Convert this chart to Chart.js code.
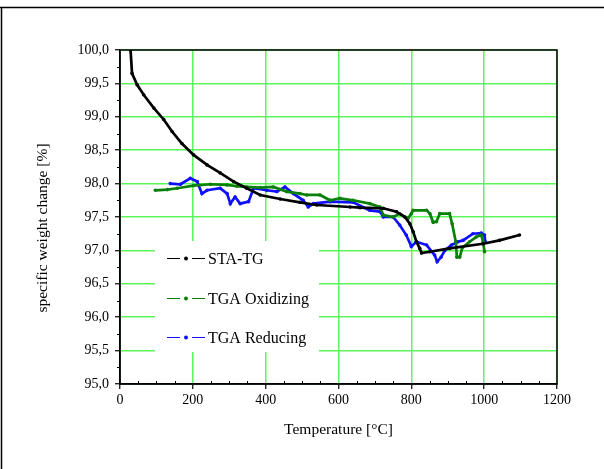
<!DOCTYPE html>
<html>
<head>
<meta charset="utf-8">
<script src="https://cdn.jsdelivr.net/npm/chart.js@4.4.0/dist/chart.umd.min.js"></script>
<style>
  html, body { margin: 0; padding: 0; background: #fff; }
  #wrap { width: 604px; height: 469px; }
</style>
</head>
<body>
<div id="wrap"><canvas id="tg" width="604" height="469"></canvas></div>
<script>
'use strict';

// STA-TG run
const staTemp = [29, 33, 47, 65, 93, 120, 143, 170, 202, 239, 275, 312, 348, 385, 440, 494, 540,
  632, 659, 723, 759, 782, 796, 805, 814, 823, 828, 851, 905, 997, 1042, 1097];
const staWeight = [100.0, 99.65, 99.48, 99.33, 99.13, 98.96, 98.78, 98.60, 98.43, 98.28, 98.16, 98.03,
  97.93, 97.83, 97.77, 97.72, 97.68, 97.65, 97.64, 97.63, 97.58, 97.50, 97.40, 97.28, 97.13, 97.03,
  96.96, 96.98, 97.03, 97.10, 97.15, 97.23];

// TGA, oxidizing atmosphere
const oxTemp = [97, 130, 157, 202, 248, 294, 321, 348, 385, 421, 458, 494, 513, 549, 577, 604, 640,
  686, 714, 723, 750, 768, 791, 800, 805, 842, 851, 860, 869, 878, 905, 912, 922, 925, 933, 940,
  960, 978, 992, 997, 1001];
const oxWeight = [97.90, 97.91, 97.93, 97.97, 97.99, 97.98, 97.96, 97.95, 97.94, 97.95, 97.88, 97.85,
  97.83, 97.83, 97.75, 97.78, 97.75, 97.70, 97.65, 97.53, 97.50, 97.55, 97.48, 97.55, 97.60, 97.60,
  97.55, 97.42, 97.43, 97.55, 97.55, 97.40, 97.13, 96.90, 96.90, 97.04, 97.13, 97.20, 97.23, 97.13,
  96.98];

// TGA, reducing atmosphere
const redTemp = [138, 166, 193, 212, 225, 239, 275, 294, 303, 316, 330, 353, 367, 403, 431, 453, 476,
  503, 517, 531, 577, 640, 686, 714, 723, 750, 768, 786, 800, 814, 842, 864, 871, 882, 892, 910,
  928, 942, 969, 992, 1001, 1003];
const redWeight = [98.00, 97.99, 98.08, 98.03, 97.85, 97.90, 97.93, 97.85, 97.70, 97.80, 97.70, 97.73,
  97.93, 97.90, 97.88, 97.95, 97.85, 97.75, 97.65, 97.70, 97.73, 97.72, 97.60, 97.58, 97.50, 97.50,
  97.38, 97.23, 97.06, 97.13, 97.08, 96.93, 96.83, 96.90, 97.00, 97.08, 97.13, 97.15, 97.25, 97.26,
  97.23, 97.13];

const seriesNames = ['STA-TG', 'TGA Oxidizing', 'TGA Reducing'];
const seriesColors = ['#000000', '#0a800a', '#1010ff'];

const tempRange = [0, 1200];
const weightRange = [95, 100];

const GRID = '#5cf55c';
const SERIF = "'Liberation Serif', 'Times New Roman', serif";

function pairs(xs, ys) {
  return xs.map((x, i) => ({ x: x, y: ys[i] }));
}

function series(i, xs, ys) {
  return {
    label: seriesNames[i],
    data: pairs(xs, ys),
    borderColor: seriesColors[i],
    backgroundColor: seriesColors[i],
    borderWidth: 2.7,
    pointRadius: 1.8,
    pointBorderWidth: 0,
    pointBackgroundColor: seriesColors[i],
    tension: 0,
    fill: false
  };
}

// frame, plot box, minor ticks, y title and the boxed legend inside the plot
const decor = {
  id: 'decor',
  beforeDraw(chart) {
    const ctx = chart.ctx;
    ctx.save();
    ctx.fillStyle = '#fff';
    ctx.fillRect(0, 0, chart.width, chart.height);
    ctx.strokeStyle = '#000';
    ctx.lineWidth = 1.5;
    ctx.beginPath();
    ctx.moveTo(0, 7.5);
    ctx.lineTo(chart.width, 7.5);
    ctx.moveTo(1.5, 7.5);
    ctx.lineTo(1.5, chart.height);
    ctx.stroke();

    ctx.translate(43, 228);
    ctx.rotate(-Math.PI / 2);
    ctx.fillStyle = '#000';
    ctx.font = '15.5px ' + SERIF;
    ctx.textAlign = 'center';
    ctx.textBaseline = 'middle';
    ctx.fillText('specific weight change [%]', 0, 0);
    ctx.restore();
  },
  afterDatasetsDraw(chart) {
    const ctx = chart.ctx;
    const a = chart.chartArea;
    const sx = chart.scales.x, sy = chart.scales.y;
    ctx.save();

    ctx.strokeStyle = '#000';
    ctx.lineWidth = 1.5;
    ctx.strokeRect(a.left, a.top, a.right - a.left, a.bottom - a.top);

    ctx.lineWidth = 1;
    ctx.beginPath();
    for (let t = 50; t < 1200; t += 50) {
      if (t % 200 === 0) continue;
      const px = Math.round(sx.getPixelForValue(t)) + 0.5;
      ctx.moveTo(px, a.bottom);
      ctx.lineTo(px, a.bottom - 3);
    }
    for (let w = 95.25; w < 100; w += 0.5) {
      const py = Math.round(sy.getPixelForValue(w)) + 0.5;
      ctx.moveTo(a.left, py);
      ctx.lineTo(a.left - 3, py);
    }
    ctx.stroke();

    // legend
    ctx.fillStyle = '#fff';
    ctx.fillRect(155, 241, 164, 111);
    const rows = [258.5, 298.5, 337.5];
    ctx.font = '16px ' + SERIF;
    ctx.textBaseline = 'middle';
    ctx.textAlign = 'left';
    chart.data.datasets.forEach((ds, i) => {
      const y = rows[i];
      ctx.strokeStyle = ds.borderColor;
      ctx.lineWidth = 1;
      ctx.beginPath();
      ctx.moveTo(167, y);
      ctx.lineTo(180, y);
      ctx.moveTo(192, y);
      ctx.lineTo(205, y);
      ctx.stroke();
      ctx.fillStyle = ds.borderColor;
      ctx.beginPath();
      ctx.arc(186, y, 2, 0, Math.PI * 2);
      ctx.fill();
      ctx.fillStyle = '#000';
      ctx.fillText(ds.label, 208, y + 1);
    });
    ctx.restore();
  }
};

Chart.defaults.font.family = SERIF;
Chart.defaults.color = '#000';

new Chart(document.getElementById('tg'), {
  type: 'line',
  data: {
    datasets: [
      series(0, staTemp, staWeight),
      series(1, oxTemp, oxWeight),
      series(2, redTemp, redWeight)
    ]
  },
  options: {
    responsive: false,
    animation: false,
    layout: { padding: { top: 50, right: 47, left: 0, bottom: 0 } },
    plugins: { legend: { display: false }, tooltip: { enabled: false } },
    scales: {
      x: {
        type: 'linear',
        min: tempRange[0],
        max: tempRange[1],
        afterFit(scale) { scale.height = 85; },
        ticks: { stepSize: 200, font: { size: 14 }, padding: 3, maxRotation: 0, callback: v => String(v) },
        grid: { color: GRID, lineWidth: 1.5, tickColor: '#000', tickLength: 5, tickWidth: 1.2 },
        border: { color: '#000', width: 1.5 },
        title: { display: true, text: 'Temperature [°C]', font: { size: 15.5 }, padding: { top: 0, bottom: 30 } }
      },
      y: {
        min: weightRange[0],
        max: weightRange[1],
        afterFit(scale) { scale.width = 120; },
        ticks: {
          stepSize: 0.5,
          font: { size: 14 },
          padding: 6,
          callback: v => v.toFixed(1).replace('.', ',')
        },
        grid: { color: GRID, lineWidth: 1.5, tickColor: '#000', tickLength: 5, tickWidth: 1.2 },
        border: { color: '#000', width: 1.5 }
      }
    }
  },
  plugins: [decor]
});
</script>
</body>
</html>
